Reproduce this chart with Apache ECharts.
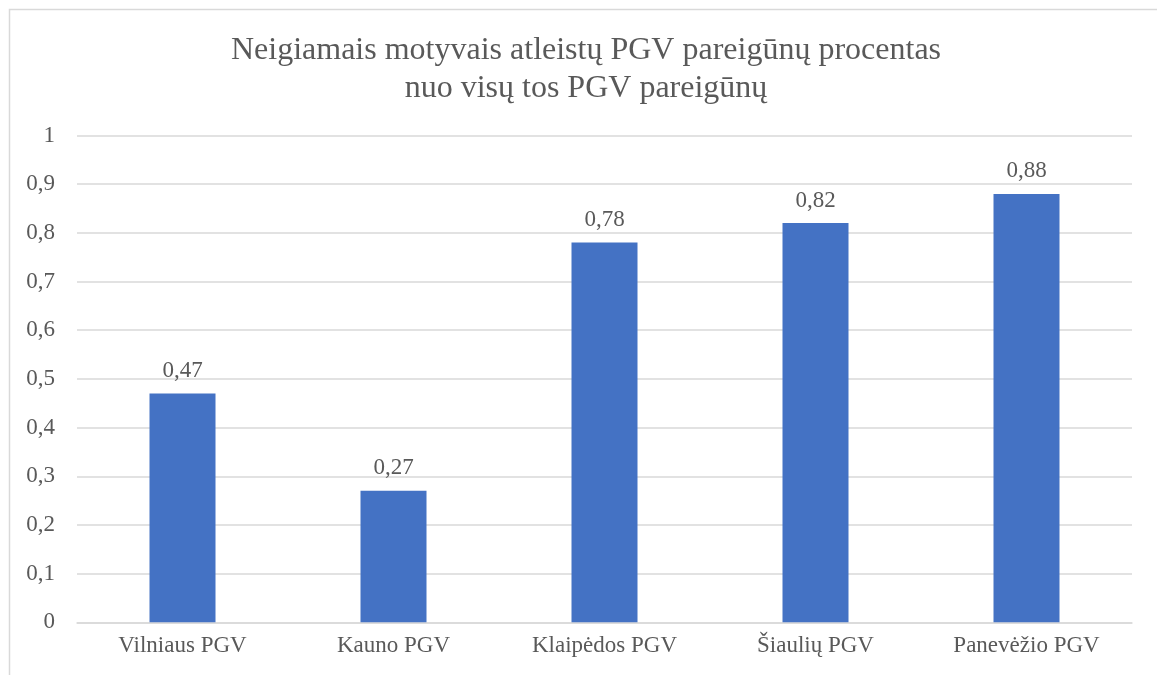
<!DOCTYPE html>
<html>
<head>
<meta charset="utf-8">
<script src="https://cdn.jsdelivr.net/npm/echarts@6/dist/echarts.min.js"></script>
<style>
html,body{margin:0;padding:0;background:#fff;}
#c{width:1157px;height:675px;}
</style>
</head>
<body>
<div id="c"></div>
<script>
const titleLines = ['Neigiamais motyvais atleistų PGV pareigūnų procentas', 'nuo visų tos PGV pareigūnų'];
const categories = ['Vilniaus PGV', 'Kauno PGV', 'Klaipėdos PGV', 'Šiaulių PGV', 'Panevėžio PGV'];
const values = [0.47, 0.27, 0.78, 0.82, 0.88];

const fmt = v => String(Math.round(v * 100) / 100).replace('.', ',');
const FONT = '"Liberation Serif", "Times New Roman", serif';
const TXT = '#595959';
const GRID = '#d9d9d9';

const chart = echarts.init(document.getElementById('c'), null, {renderer: 'canvas'});
chart.setOption({
  animation: false,
  backgroundColor: '#fff',
  title: {
    text: titleLines.join('\n'),
    left: 581,
    textAlign: 'center',
    top: 26,
    textStyle: {fontFamily: FONT, fontSize: 32, fontWeight: 'normal', color: TXT, lineHeight: 38.4}
  },
  graphic: [{
    type: 'rect',
    shape: {x: 9.5, y: 9.5, width: 1200, height: 700},
    style: {fill: 'none', stroke: GRID, lineWidth: 1.5},
    silent: true
  }],
  grid: {left: 77, right: 25, top: 135.5, bottom: 52.7, containLabel: false},
  xAxis: {
    type: 'category',
    data: categories,
    axisLine: {lineStyle: {color: GRID, width: 1.5}},
    axisTick: {show: false},
    axisLabel: {fontFamily: FONT, fontSize: 23, color: TXT, margin: 12}
  },
  yAxis: {
    type: 'value',
    min: 0, max: 1, interval: 0.1,
    axisLine: {show: false},
    axisTick: {show: false},
    splitLine: {lineStyle: {color: GRID, width: 1.5}},
    axisLabel: {fontFamily: FONT, fontSize: 23, color: TXT, margin: 22, formatter: fmt}
  },
  series: [{
    type: 'bar',
    data: values,
    barWidth: 66,
    itemStyle: {color: '#4472C4'},
    label: {
      show: true, position: 'top', distance: 11,
      fontFamily: FONT, fontSize: 23, color: TXT,
      formatter: p => fmt(p.value)
    }
  }]
});
</script>
</body>
</html>
